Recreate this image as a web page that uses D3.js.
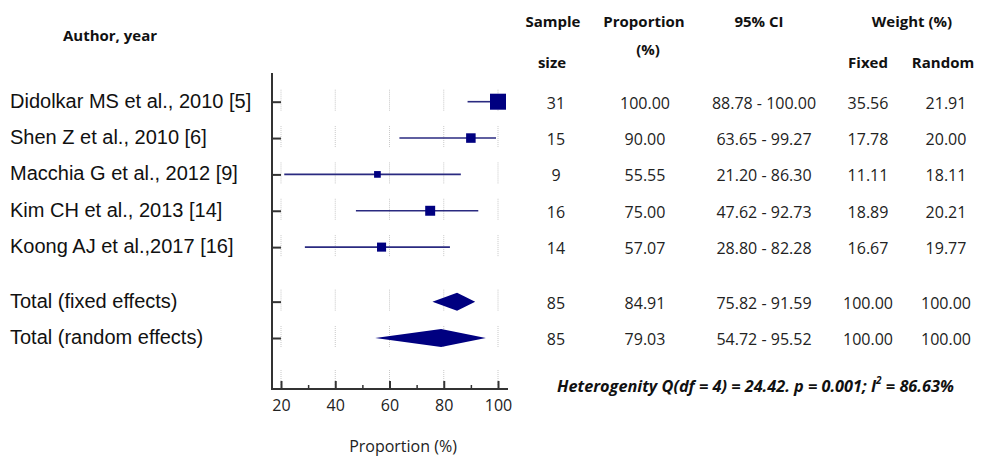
<!DOCTYPE html>
<html><head><meta charset="utf-8">
<script src="https://cdn.jsdelivr.net/npm/d3@7"></script>
<style>body{margin:0;background:#fff}svg{display:block}</style>
</head><body>
<svg id="c" width="989" height="458"></svg>
<script>
const studies = ["Didolkar MS et al., 2010 [5]","Shen Z et al., 2010 [6]","Macchia G et al., 2012 [9]","Kim CH et al., 2013 [14]","Koong AJ et al.,2017 [16]","Total (fixed effects)","Total (random effects)"];
const rowPos = [0,1,2,3,4,5.5,6.5];
const sampleSize = [31,15,9,16,14,85,85];
const proportion = [100.00,90.00,55.55,75.00,57.07,84.91,79.03];
const ciLow = [88.78,63.65,21.20,47.62,28.80,75.82,54.72];
const ciHigh = [100.00,99.27,86.30,92.73,82.28,91.59,95.52];
const weightFixed = [35.56,17.78,11.11,18.89,16.67,100.00,100.00];
const weightRandom = [21.91,20.00,18.11,20.21,19.77,100.00,100.00];
const isTotal = [false,false,false,false,false,true,true];
const xTicks = [20,40,60,80,100];
const xMinor = [30,50,70,90];
const hetText = "Heterogenity Q(df = 4) = 24.42. p = 0.001; I";

const svg = d3.select("#c");
const navy = "#000080";
const x = d3.scaleLinear().domain([20,100]).range([281,498]);
const y = d3.scaleLinear().domain([0,6.5]).range([101.7,338]);
const sq = d3.scalePow().exponent(0.75).domain([0,35.56]).range([0,16]);
const axisY = 389, axisX = 272;

// dotted grid segments
const g = svg.append("g");
xTicks.forEach(t=>{
  rowPos.forEach(p=>{
    g.append("line").attr("x1",x(t)).attr("x2",x(t)).attr("y1",y(p)-12).attr("y2",y(p)+10)
     .attr("stroke","#c8c8c8").attr("stroke-width",1).attr("stroke-dasharray","1,1");
  });
  g.append("line").attr("x1",x(t)).attr("x2",x(t)).attr("y1",370).attr("y2",386)
     .attr("stroke","#c8c8c8").attr("stroke-width",1).attr("stroke-dasharray","1,1");
});

// axes
svg.append("line").attr("x1",axisX).attr("x2",axisX).attr("y1",73).attr("y2",axisY+1)
  .attr("stroke","#333").attr("stroke-width",2);
svg.append("line").attr("x1",axisX-1).attr("x2",508).attr("y1",axisY).attr("y2",axisY)
  .attr("stroke","#333").attr("stroke-width",2);
const ya = svg.append("g").attr("transform",`translate(${axisX},0)`)
  .call(d3.axisRight(y).tickValues(rowPos).tickSize(9).tickFormat(""));
ya.select(".domain").remove();
ya.selectAll("line").attr("stroke","#333").attr("stroke-width",2);

const xa = svg.append("g").attr("transform",`translate(0,${axisY})`)
  .call(d3.axisBottom(x).tickValues(xTicks).tickSizeInner(-8).tickSizeOuter(0).tickPadding(11));
xa.select(".domain").remove();
xa.selectAll("line").attr("stroke","#333").attr("stroke-width",2);
xa.selectAll("text").attr("font-family","Open Sans").attr("font-size",16).attr("fill","#222");
const xm = svg.append("g").attr("transform",`translate(0,${axisY})`)
  .call(d3.axisBottom(x).tickValues(xMinor).tickSizeInner(-4).tickSizeOuter(0).tickFormat(""));
xm.select(".domain").remove();
xm.selectAll("line").attr("stroke","#333").attr("stroke-width",1.5);

// CI lines and squares
studies.forEach((s,i)=>{
  const yy = y(rowPos[i]);
  if(!isTotal[i]){
    svg.append("line").attr("x1",x(ciLow[i])).attr("x2",x(ciHigh[i])).attr("y1",yy).attr("y2",yy)
      .attr("stroke","#2a2a80").attr("stroke-width",1.6);
    const w = sq(weightFixed[i]);
    svg.append("rect").attr("x",x(proportion[i])-w/2).attr("y",yy-w/2).attr("width",w).attr("height",w).attr("fill",navy);
  } else {
    const h = 9;
    svg.append("path").attr("d",`M${x(ciLow[i])},${yy}L${x(proportion[i])},${yy-h}L${x(ciHigh[i])},${yy}L${x(proportion[i])},${yy+h}Z`)
      .attr("fill",navy);
  }
});

// left labels
svg.append("g").selectAll("text").data(studies).join("text")
  .attr("x",10).attr("y",(d,i)=>y(rowPos[i])+6)
  .attr("font-family","Liberation Sans, Arial").attr("font-size",20).attr("fill","#111")
  .text(d=>d);

// headers
const hdr = (t,xx,yy,anchor="middle")=>svg.append("text").attr("x",xx).attr("y",yy).attr("text-anchor",anchor)
  .attr("font-family","Open Sans").attr("font-weight","bold").attr("font-size",15).attr("fill","#111")
  .attr("dominant-baseline","central").text(t);
hdr("Author, year",110,35);
hdr("Sample",553,21);
hdr("size",552,62);
hdr("Proportion",644,21);
hdr("(%)",648,49);
hdr("95% CI",759,21);
hdr("Weight (%)",912,21);
hdr("Fixed",868,62);
hdr("Random",943,62);

// table values
const cols = [
  {vals: sampleSize.map(String), x:556},
  {vals: proportion.map(v=>v.toFixed(2)), x:645},
  {vals: ciLow.map((v,i)=>v.toFixed(2)+" - "+ciHigh[i].toFixed(2)), x:764},
  {vals: weightFixed.map(v=>v.toFixed(2)), x:868},
  {vals: weightRandom.map(v=>v.toFixed(2)), x:946}
];
cols.forEach(c=>{
  svg.append("g").selectAll("text").data(c.vals).join("text")
    .attr("x",c.x).attr("y",(d,i)=>y(rowPos[i])+1)
    .attr("text-anchor","middle").attr("dominant-baseline","central")
    .attr("font-family","Open Sans").attr("font-size",16).attr("fill","#222")
    .text(d=>d);
});

// heterogeneity
const ht = svg.append("text").attr("x",557).attr("y",386).attr("dominant-baseline","central")
  .attr("font-family","Open Sans").attr("font-weight","bold").attr("font-style","italic")
  .attr("font-size",16.3).attr("fill","#111");
ht.append("tspan").text(hetText);
ht.append("tspan").attr("dy",-6).attr("font-size",10).text("2");
ht.append("tspan").attr("dy",6).text(" = 86.63%");

// x label
svg.append("text").attr("x",403).attr("y",446).attr("text-anchor","middle").attr("dominant-baseline","central")
  .attr("font-family","Open Sans").attr("font-size",16).attr("fill","#222").text("Proportion (%)");
</script>
</body></html>
